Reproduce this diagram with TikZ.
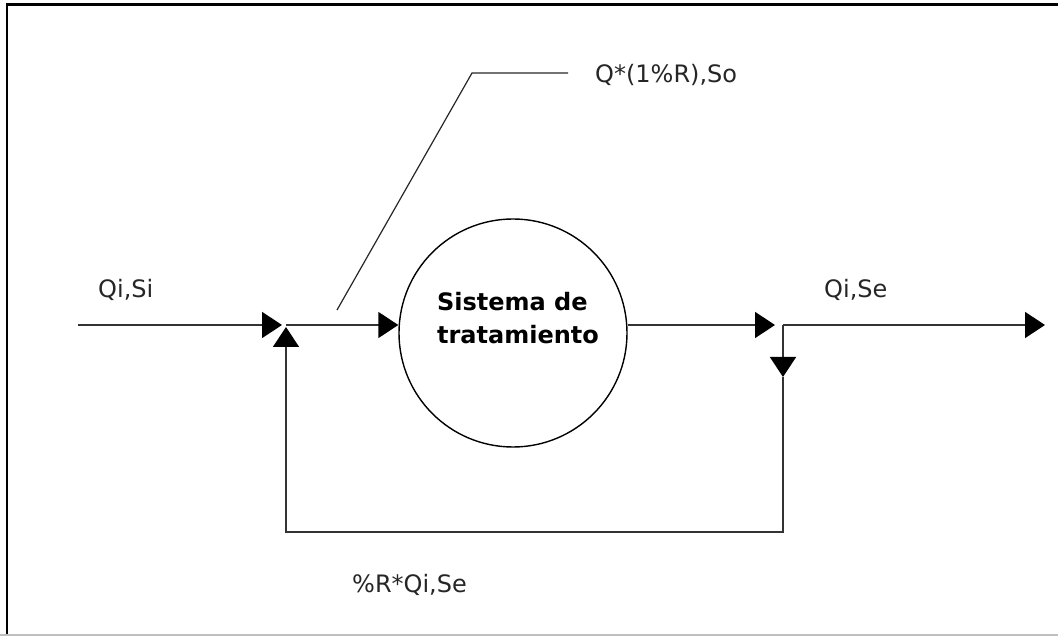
\documentclass[tikz,border=0pt]{standalone}
\usepackage{fontspec}
\setmainfont{DejaVu Sans}
\usetikzlibrary{arrows.meta}
\begin{document}
\begin{tikzpicture}[x=1pt,y=-1pt,
  flow/.style={line width=1.6pt, draw=black!80},
  tip/.style={-{Triangle[length=20pt,width=26pt,black]}},
  lead/.style={line width=1.2pt, draw=black!85},
  lbl/.style={font=\fontsize{24}{28}\selectfont, inner sep=0pt, anchor=base west, text=black!85},
  ]
\useasboundingbox (0,0) rectangle (1058,636);
% outer frame
\draw[line width=2.5pt] (7,636) -- (7,4.5) -- (1058,4.5);
\draw[line width=2pt, black!25] (0,635) -- (1058,635);

% treatment unit
\node[circle, draw, line width=1.4pt, minimum size=228pt, inner sep=0pt] (sys) at (513,333) {};
\node[font=\bfseries\fontsize{24}{33}\selectfont, align=left, inner sep=0pt] (systext) at (518,318) {Sistema de\\tratamiento};

% junction points of the flow scheme
\coordinate (src) at (78,325);
\coordinate (mix) at (286,325);
\coordinate (split) at (783,325);
\coordinate (out) at (1045,325);
\coordinate (drop) at (783,377);
\coordinate (rr) at (783,532);
\coordinate (rl) at (286,532);

% main flow
\draw[flow,tip,shorten >=4pt] (src) -- (mix);
\draw[flow,tip] (mix) -- (mix -| sys.west);
\draw[flow,tip,shorten >=8pt] (mix -| sys.east) -- (split);
\draw[flow,tip] (split) -- (out);

% recycle loop
\draw[flow,tip] (split) -- (drop);
\draw[flow,tip,shorten >=2pt] (drop) -- (rr) -- (rl) -- (mix);

% leader line to the mixed-flow label
\coordinate (lead0) at (337,310);
\coordinate (lead1) at (472,73);
\coordinate (lead2) at (568,73);
\draw[lead] (lead0) -- (lead1) -- (lead2);

% labels
\node[lbl] (qin) at (98,298) {Qi,Si};
\node[lbl] (qmix) at (595,83) {Q*(1\%R),So};
\node[lbl] (qout) at (824,298) {Qi,Se};
\node[lbl] (qrec) at (352,592) {\%R*Qi,Se};
\end{tikzpicture}
\end{document}
